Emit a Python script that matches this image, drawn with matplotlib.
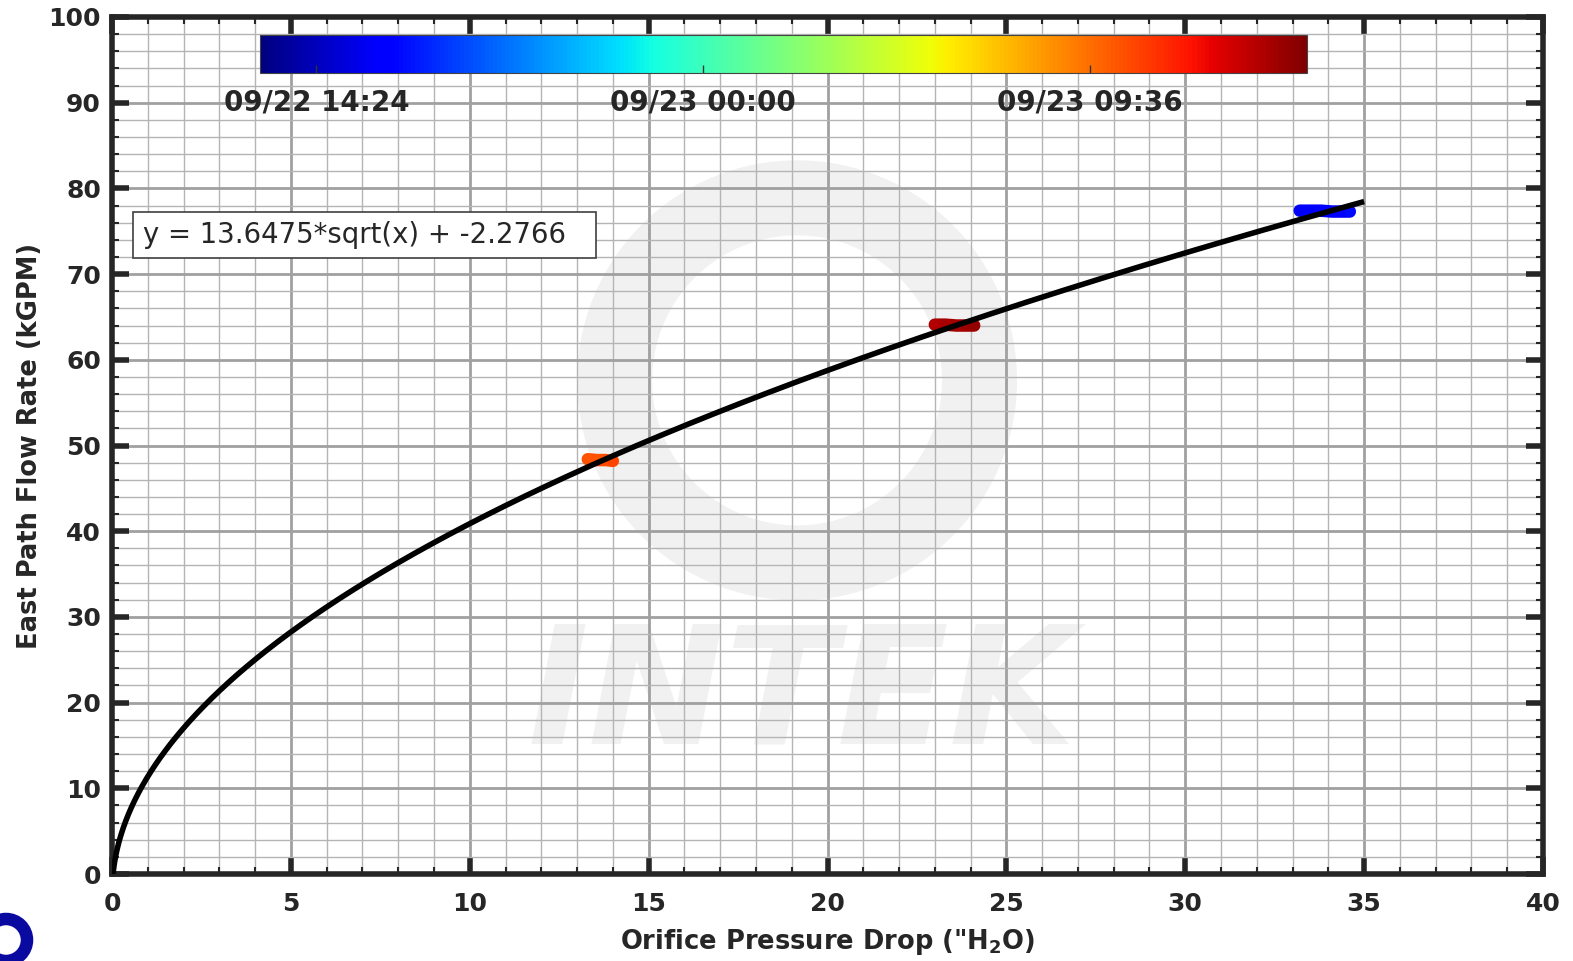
import numpy as np
import matplotlib
matplotlib.use("Agg")
import matplotlib.pyplot as plt
import matplotlib.dates as mdates
from matplotlib.patches import Ellipse, Circle, Rectangle
from datetime import datetime

# ---- data ----
fit_a = 13.6475
fit_b = -2.2766
fit_xmax = 35.0

# measured clusters (orifice dP, flow, timestamp)
dp_blue = [33.2, 33.5, 33.8, 34.1, 34.4, 34.6]
flow_blue = [77.4, 77.4, 77.4, 77.3, 77.3, 77.3]
time_blue = ["2020-09-22 15:40", "2020-09-22 15:50", "2020-09-22 16:00",
             "2020-09-22 16:10", "2020-09-22 16:20", "2020-09-22 16:30"]

dp_orange = [13.3, 13.55, 13.8, 14.0]
flow_orange = [48.4, 48.3, 48.3, 48.2]
time_orange = ["2020-09-23 10:15", "2020-09-23 10:25", "2020-09-23 10:35", "2020-09-23 10:45"]

dp_red = [23.0, 23.3, 23.6, 23.9, 24.1]
flow_red = [64.1, 64.1, 64.0, 64.0, 64.0]
time_red = ["2020-09-23 13:50", "2020-09-23 14:00", "2020-09-23 14:10",
            "2020-09-23 14:20", "2020-09-23 14:30"]

cbar_start = "2020-09-22 13:00"
cbar_end = "2020-09-23 15:00"
cbar_ticks = ["2020-09-22 14:24", "2020-09-23 00:00", "2020-09-23 09:36"]

xlim = (0, 40)
ylim = (0, 100)

fmt = "%Y-%m-%d %H:%M"
def tnum(lst):
    return [mdates.date2num(datetime.strptime(s, fmt)) for s in lst]

vmin = tnum([cbar_start])[0]
vmax = tnum([cbar_end])[0]

txt = "#262626"
fig = plt.figure(figsize=(15.73, 9.61), dpi=100)
ax = fig.add_axes([112/1573, 87/961, 1431/1573, 857/961])
ax.set_xlim(*xlim)
ax.set_ylim(*ylim)

# watermark
wm = "#f1f1f1"
ax.add_patch(Ellipse((19.15, 57.6), 10.2, 42.6, facecolor="none", edgecolor=wm,
                     linewidth=54, zorder=0.3))
ax.text(19.3, 20.5, "INTEK", fontsize=118, fontweight="bold", style="italic",
        color=wm, ha="center", va="center", zorder=0.3)

# grid
ax.set_xticks(np.arange(0, 41, 5))
ax.set_yticks(np.arange(0, 101, 10))
ax.set_xticks(np.arange(0, 41, 1), minor=True)
ax.set_yticks(np.arange(0, 101, 2), minor=True)
ax.grid(which="major", color="#a0a0a0", linewidth=2.0, zorder=1)
ax.grid(which="minor", color="#b4b4b4", linewidth=1.0, zorder=1)
ax.set_axisbelow(True)

ax.tick_params(which="major", direction="in", length=12, width=4, top=True, right=True,
               labelsize=18, labelcolor=txt, color=txt, pad=8)
ax.tick_params(axis="x", which="major", pad=13)
ax.tick_params(which="minor", direction="in", length=5, width=1.5, top=True, right=True,
               color=txt)
for lab in ax.get_xticklabels() + ax.get_yticklabels():
    lab.set_fontweight("bold")
for sp in ax.spines.values():
    sp.set_linewidth(4)
    sp.set_color(txt)

# fit curve
xx = np.linspace(0, fit_xmax, 2000)
yy = fit_a * np.sqrt(xx) + fit_b
ax.plot(xx, yy, color="black", linewidth=4, zorder=4, solid_capstyle="butt")

# data clusters
cmap = plt.get_cmap("jet")
for dps, fl, ts in [(dp_blue, flow_blue, time_blue), (dp_orange, flow_orange, time_orange),
                    (dp_red, flow_red, time_red)]:
    tt = tnum(ts)
    ax.plot(dps, fl, color=cmap((np.mean(tt) - vmin) / (vmax - vmin)), linewidth=9,
            solid_capstyle="round", zorder=3)
    ax.scatter(dps, fl, c=tt, cmap=cmap, vmin=vmin, vmax=vmax, s=60, zorder=3,
               edgecolors="none")

ax.set_xlabel('Orifice Pressure Drop ("H$_\\mathbf{2}$O)', fontsize=18.5, fontweight="bold",
              color=txt, labelpad=8)
ax.set_ylabel("East Path Flow Rate (kGPM)", fontsize=18.5, fontweight="bold",
              color=txt, labelpad=4)

# equation box
ax.add_patch(Rectangle((0.0147, 0.719), 0.3235, 0.0535, transform=ax.transAxes,
                       facecolor="white", edgecolor="#404040", linewidth=1.2, zorder=5))
ax.text(0.0217, 0.7456, "y = 13.6475*sqrt(x) + -2.2766", transform=ax.transAxes,
        fontsize=19.8, color=txt, ha="left", va="center", zorder=6)

# colorbar
cax = fig.add_axes([260/1573, 1 - 73/961, 1047/1573, 38/961])
norm = matplotlib.colors.Normalize(vmin=vmin, vmax=vmax)
cb = matplotlib.colorbar.ColorbarBase(cax, cmap=cmap, norm=norm, orientation="horizontal")
tk = tnum(cbar_ticks)
cb.set_ticks(tk)
cb.set_ticklabels([datetime.strptime(s, fmt).strftime("%m/%d %H:%M") for s in cbar_ticks])
cax.tick_params(direction="in", length=6, width=1, labelsize=20, labelcolor=txt,
                color="#333333", pad=11)
for lab in cax.get_xticklabels():
    lab.set_fontweight("bold")
cb.outline.set_linewidth(0.8)
cb.outline.set_edgecolor("#444444")

# small logo bottom-left
fig.patches.append(Circle((6, 961 - 940), 21, transform=None, facecolor="none",
                          edgecolor="#0a0aa0", linewidth=9, figure=fig))

fig.savefig("out.png", dpi=100)
